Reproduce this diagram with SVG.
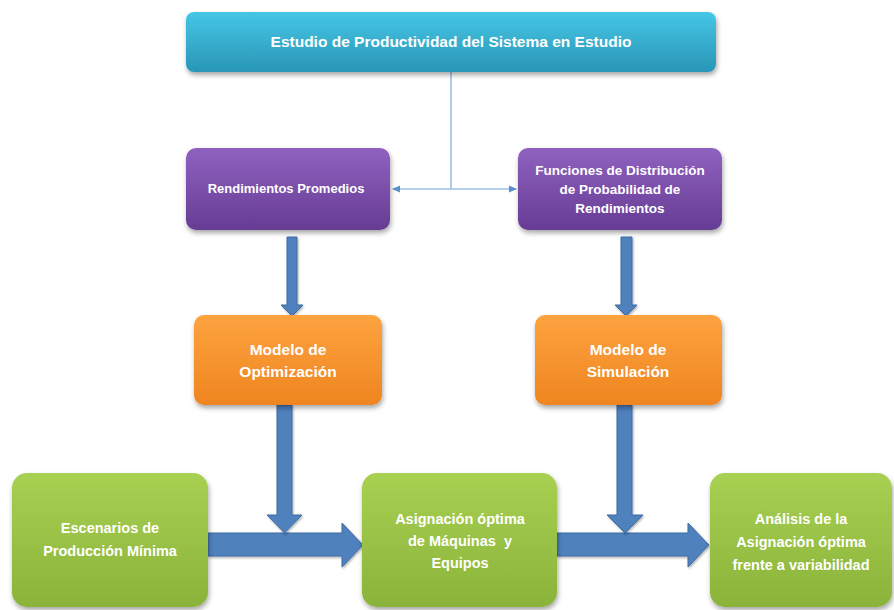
<svg xmlns="http://www.w3.org/2000/svg" width="894" height="610" viewBox="0 0 894 610">
<defs>
<linearGradient id="gCyan" x1="0" y1="0" x2="0" y2="1"><stop offset="0" stop-color="#46c6e6"/><stop offset="1" stop-color="#2996b6"/></linearGradient>
<linearGradient id="gPurple" x1="0" y1="0" x2="0" y2="1"><stop offset="0" stop-color="#8f62bf"/><stop offset="1" stop-color="#663c94"/></linearGradient>
<linearGradient id="gOrange" x1="0" y1="0" x2="0" y2="1"><stop offset="0" stop-color="#fda33f"/><stop offset="1" stop-color="#ee8520"/></linearGradient>
<linearGradient id="gGreen" x1="0" y1="0" x2="0" y2="1"><stop offset="0" stop-color="#a8d052"/><stop offset="1" stop-color="#8ab33a"/></linearGradient>
<filter id="sh" x="-10%" y="-10%" width="130%" height="140%"><feDropShadow dx="1" dy="3" stdDeviation="2.5" flood-color="#000" flood-opacity="0.35"/></filter>
<filter id="ash" x="-20%" y="-20%" width="140%" height="140%"><feDropShadow dx="1" dy="1.5" stdDeviation="1" flood-color="#000" flood-opacity="0.3"/></filter>
<marker id="thin" markerWidth="8" markerHeight="8" refX="7" refY="4" orient="auto" markerUnits="userSpaceOnUse"><path d="M0,0.5 L8,4 L0,7.5 Z" fill="#5b8fc9"/></marker>
<style>
.box{filter:url(#sh);}
.t{font-family:"Liberation Sans",Arial,sans-serif;font-weight:bold;fill:#ffffff;text-anchor:middle;white-space:pre;}
.arrow{fill:#4f81bd;stroke:#3d6ca3;stroke-width:1;filter:url(#ash);}
.link{fill:none;stroke:#9dbfe6;stroke-width:1.6;}
</style>
</defs>

<g id="connectors">
<path class="link" d="M451,72 L451,189"/>
<path class="link" d="M451,189 L393,189" marker-end="url(#thin)"/>
<path class="link" d="M451,189 L516,189" marker-end="url(#thin)"/>
<path class="arrow" d="M287,237 L297,237 L297,305 L303,305 L292,316 L281,305 L287,305 Z"/>
<path class="arrow" d="M621,237 L632,237 L632,305 L637,305 L626,316 L615,305 L621,305 Z"/>
<path class="arrow" d="M208,533 L342,533 L342,523 L363,545 L342,567 L342,556 L208,556 Z"/>
<path class="arrow" d="M557,533 L688,533 L688,523 L709,545 L688,567 L688,556 L557,556 Z"/>
<path class="arrow" d="M277,405 L292,405 L292,515 L302,515 L284.5,533 L267,515 L277,515 Z"/>
<path class="arrow" d="M617,405 L632,405 L632,515 L643,515 L625,533 L607,515 L617,515 Z"/>
</g>

<g id="n-estudio">
<rect class="box" x="186" y="12" width="530" height="60" rx="8" fill="url(#gCyan)"/>
<text class="t" x="451" y="47" font-size="15.5">Estudio de Productividad del Sistema en Estudio</text>
</g>

<g id="n-rendimientos">
<rect class="box" x="186" y="148" width="204" height="82" rx="10" fill="url(#gPurple)"/>
<text class="t" x="286" y="193" font-size="13">Rendimientos Promedios</text>
</g>

<g id="n-funciones">
<rect class="box" x="518" y="148" width="204" height="82" rx="10" fill="url(#gPurple)"/>
<text class="t" x="620" y="175" font-size="13.5">Funciones de Distribución</text>
<text class="t" x="620" y="194" font-size="13.5">de Probabilidad de</text>
<text class="t" x="620" y="213" font-size="13.5">Rendimientos</text>
</g>

<g id="n-optimizacion">
<rect class="box" x="194" y="315" width="188" height="90" rx="10" fill="url(#gOrange)"/>
<text class="t" x="288" y="355" font-size="15.5">Modelo de</text>
<text class="t" x="288" y="377" font-size="15.5">Optimización</text>
</g>

<g id="n-simulacion">
<rect class="box" x="535" y="315" width="187" height="90" rx="10" fill="url(#gOrange)"/>
<text class="t" x="628" y="355" font-size="15.5">Modelo de</text>
<text class="t" x="628" y="377" font-size="15.5">Simulación</text>
</g>

<g id="n-escenarios">
<rect class="box" x="12" y="473" width="196" height="134" rx="15" fill="url(#gGreen)"/>
<text class="t" x="110" y="533" font-size="14.5">Escenarios de</text>
<text class="t" x="110" y="556" font-size="14.5">Producción Mínima</text>
</g>

<g id="n-asignacion">
<rect class="box" x="362" y="473" width="195" height="134" rx="15" fill="url(#gGreen)"/>
<text class="t" x="460" y="524" font-size="14.5">Asignación óptima</text>
<text class="t" x="460" y="546" font-size="14.5">de Máquinas  y</text>
<text class="t" x="460" y="568" font-size="14.5">Equipos</text>
</g>

<g id="n-analisis">
<rect class="box" x="710" y="473" width="182" height="134" rx="15" fill="url(#gGreen)"/>
<text class="t" x="801" y="524" font-size="14.5">Análisis de la</text>
<text class="t" x="801" y="547" font-size="14.5">Asignación óptima</text>
<text class="t" x="801" y="570" font-size="14.5">frente a variabilidad</text>
</g>
</svg>
